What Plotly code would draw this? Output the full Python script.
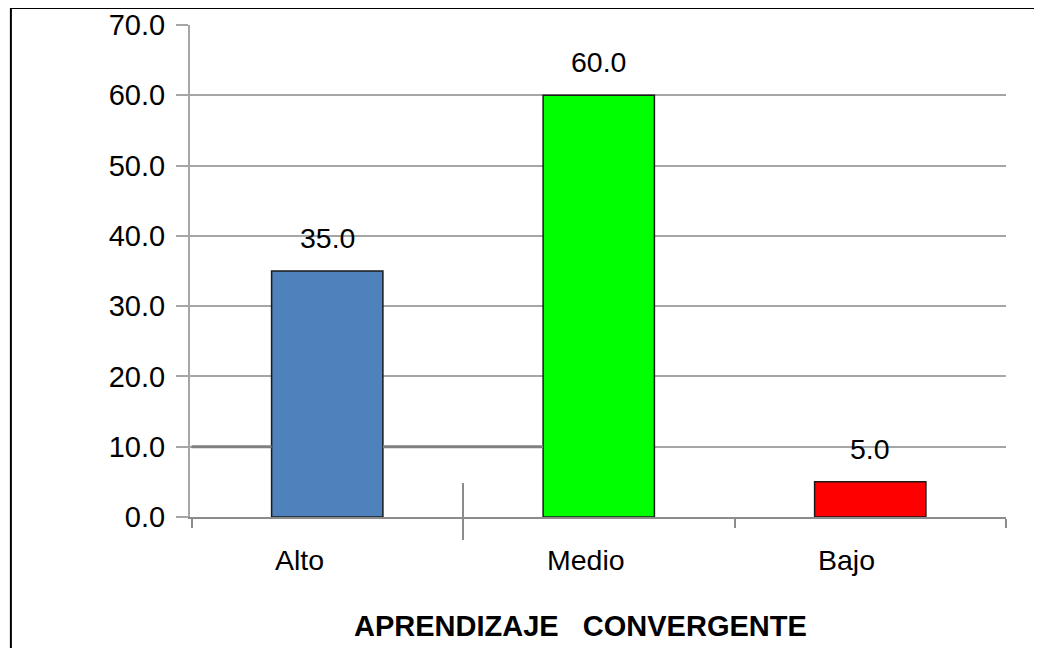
import plotly.graph_objects as go

categorias = ["Alto", "Medio", "Bajo"]
porcentajes = [35.0, 60.0, 5.0]
colores = ["#4F81BD", "#00FF00", "#FF0000"]
y_ticks = [0, 10, 20, 30, 40, 50, 60, 70]
y_tick_labels = ["0.0", "10.0", "20.0", "30.0", "40.0", "50.0", "60.0", "70.0"]

ancho_barra = 0.41

fig = go.Figure()
fig.add_trace(go.Bar(
    x=categorias,
    y=porcentajes,
    width=ancho_barra,
    marker=dict(color=colores, line=dict(color="#1a1a1a", width=1.5)),
))

# etiquetas de valor encima de cada barra
for cat, val in zip(categorias, porcentajes):
    fig.add_annotation(
        x=cat, y=val, text=f"{val:.1f}",
        showarrow=False, yanchor="bottom", yshift=15,
        font=dict(size=28.5, color="black"),
    )

# nombres de categoría alineados al borde izquierdo de cada barra
for cat in categorias:
    fig.add_annotation(
        x=cat, y=-0.087, yref="paper", text=cat,
        showarrow=False, xanchor="left", yanchor="middle", xshift=-54,
        font=dict(size=28.5, color="black"),
    )

# título del eje x
fig.add_annotation(
    x=0.478, y=-0.221, xref="paper", yref="paper",
    text="<b>APRENDIZAJE   CONVERGENTE</b>",
    showarrow=False, xanchor="center", yanchor="middle",
    font=dict(size=29, color="black"),
)

media = ancho_barra / 2
fig.update_layout(
    width=1042,
    height=648,
    font=dict(family="Liberation Sans, Arial", size=28.5, color="black"),
    paper_bgcolor="white",
    plot_bgcolor="white",
    margin=dict(l=182, r=44, t=17, b=139),
    showlegend=False,
    bargap=0.59,
    xaxis=dict(
        automargin=False,
        showgrid=False,
        showline=True,
        linecolor="#8c8c8c",
        linewidth=2,
        ticks="outside",
        tickson="boundaries",
        ticklen=9,
        tickcolor="#8c8c8c",
        tickwidth=2,
        showticklabels=False,
    ),
    yaxis=dict(
        automargin=False,
        range=[0, 70],
        tickvals=y_ticks,
        ticktext=y_tick_labels,
        showgrid=True,
        gridcolor="#a6a6a6",
        gridwidth=2,
        showline=True,
        linecolor="#a6a6a6",
        linewidth=2,
        ticks="outside",
        ticklen=12,
        tickcolor="#a6a6a6",
        tickwidth=2,
        tickfont=dict(size=29),
        ticklabelstandoff=5,
        zeroline=False,
    ),
    shapes=[
        # marco exterior (solo se ven el borde superior y el izquierdo)
        dict(type="rect", xref="paper", yref="paper",
             x0=-0.2195, x1=1.1, y0=-0.3, y1=1.0346,
             line=dict(color="black", width=2), fillcolor="rgba(0,0,0,0)", layer="below"),
        # trazo más oscuro en la línea de 10 (interrumpido por la barra Alto)
        dict(type="line", xref="x", yref="y",
             x0=-0.5, x1=-media, y0=10, y1=10,
             line=dict(color="#808080", width=3), layer="above"),
        dict(type="line", xref="x", yref="y",
             x0=media, x1=1 - media, y0=10, y1=10,
             line=dict(color="#808080", width=3), layer="above"),
        # trazo vertical entre Alto y Medio
        dict(type="line", xref="x", yref="paper",
             x0=0.5, x1=0.5, y0=-0.047, y1=0.069,
             line=dict(color="#8c8c8c", width=2)),
    ],
)

fig.write_html("out.html")
